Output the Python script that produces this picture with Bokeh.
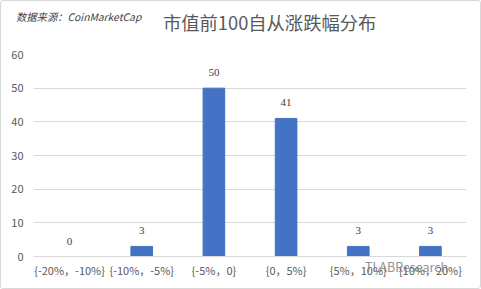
from bokeh.plotting import figure
from bokeh.models import ColumnDataSource, FactorRange, Range1d, LabelSet, Div
from bokeh.layouts import column
from bokeh.embed import file_html
from bokeh.resources import INLINE

categories = ["{-20%，-10%}", "{-10%，-5%}", "{-5%，0}", "{0，5%}", "{5%，10%}", "{10%，20%}"]
counts = [0, 3, 50, 41, 3, 3]
y_ticks = [0, 10, 20, 30, 40, 50, 60]
title_text = "市值前100自从涨跌幅分布"
source_text = "数据来源：CoinMarketCap"
watermark_text = "TLABResearch"

FONT = "Noto Sans CJK SC"
src = ColumnDataSource(dict(cat=categories, val=counts, lbl=[str(v) for v in counts]))

header = Div(width=479, height=46, margin=0, text=(
    f'<div style="position:relative;width:479px;height:46px;font-family:\'{FONT}\';">'
    f'<span style="position:absolute;left:15px;top:9px;font-size:10.3px;line-height:14px;font-style:italic;color:#404040;white-space:nowrap;">{source_text}</span>'
    f'<span style="position:absolute;left:162px;top:8px;font-size:18.3px;line-height:26px;color:#595959;white-space:nowrap;">{title_text}</span>'
    '</div>'))

p = figure(width=479, height=240, x_range=FactorRange(*categories, range_padding=0),
           y_range=Range1d(0, 60), output_backend="svg", toolbar_location=None,
           min_border_left=32, min_border_right=14, min_border_top=7, min_border_bottom=31)
p.outline_line_color = None
p.background_fill_color = "white"
p.border_fill_color = "white"

p.vbar(x="cat", top="val", width=0.3, source=src, color="#4472C4")

p.add_layout(LabelSet(x="cat", y="val", text="lbl", source=src, y_offset=12,
                      text_align="center", text_baseline="bottom", text_font_size="11px",
                      text_color="#404040", text_font=FONT))

p.ygrid.grid_line_color = "#D9D9D9"
p.xgrid.grid_line_color = None
p.yaxis.ticker = y_ticks
p.yaxis.axis_line_color = None
p.yaxis.major_tick_line_color = None
p.yaxis.minor_tick_line_color = None
p.yaxis.major_tick_out = 0
p.yaxis.minor_tick_out = 0
p.yaxis.major_label_standoff = 10
p.yaxis.major_label_text_font_size = "11px"
p.yaxis.major_label_text_color = "#595959"
p.yaxis.major_label_text_font = FONT

p.xaxis.axis_line_color = "#D9D9D9"
p.xaxis.major_tick_line_color = None
p.xaxis.minor_tick_line_color = None
p.xaxis.major_tick_out = 0
p.xaxis.minor_tick_out = 0
p.xaxis.major_label_standoff = 5
p.xaxis.major_label_text_font_size = "11px"
p.xaxis.major_label_text_color = "#595959"
p.xaxis.major_label_text_font = FONT

footer = Div(width=1, height=1, margin=0,
             styles={"transform": "translate(364px, -28px)", "overflow": "visible", "z-index": "5"},
             text=(f'<span style="font-family:\'{FONT}\';font-size:12.5px;line-height:16px;color:#7f7f7f;'
                   f'opacity:0.85;white-space:nowrap;">{watermark_text}</span>'))

layout = column(header, p, footer, spacing=0, margin=0,
                styles={"border": "1px solid #D9D9D9", "border-radius": "3px", "background": "white"})

open("out.html", "w").write(file_html(layout, INLINE))
